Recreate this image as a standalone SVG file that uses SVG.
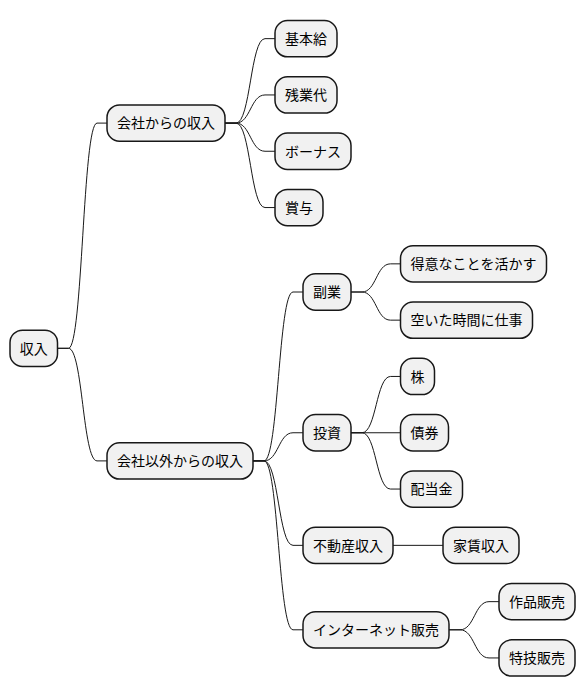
<svg xmlns="http://www.w3.org/2000/svg" width="586" height="696" viewBox="0 0 586 696">
<style>
.n rect{fill:#F1F1F1;stroke:#181818;stroke-width:1.5}
.n text{font-family:"Noto Sans CJK JP","Noto Sans",sans-serif;font-size:14px;fill:#000;text-anchor:middle}
#connectors path{fill:none;stroke:#181818;stroke-width:1}
</style>
<rect width="586" height="696" fill="#FFFFFF"/>
<g id="connectors">
<path d="M57.5,348.3 H68.5 C82.75,348.3 82.75,123.1 97,123.1 H107"/>
<path d="M57.5,348.3 H68.5 C82.75,348.3 82.75,460.9 97,460.9 H107"/>
<path d="M225,123.1 H236 C250.5,123.1 250.5,38.65 265,38.65 H275"/>
<path d="M225,123.1 H236 C250.5,123.1 250.5,94.95 265,94.95 H275"/>
<path d="M225,123.1 H236 C250.5,123.1 250.5,151.25 265,151.25 H275"/>
<path d="M225,123.1 H236 C250.5,123.1 250.5,207.55 265,207.55 H275"/>
<path d="M253,460.9 H264 C278.5,460.9 278.5,292 293,292 H303"/>
<path d="M253,460.9 H264 C278.5,460.9 278.5,432.75 293,432.75 H303"/>
<path d="M253,460.9 H264 C278.5,460.9 278.5,545.35 293,545.35 H303"/>
<path d="M253,460.9 H264 C278.5,460.9 278.5,629.8 293,629.8 H303"/>
<path d="M351,292 H362 C376.25,292 376.25,263.85 390.5,263.85 H400.5"/>
<path d="M351,292 H362 C376.25,292 376.25,320.15 390.5,320.15 H400.5"/>
<path d="M351,432.75 H362 C376.25,432.75 376.25,376.45 390.5,376.45 H400.5"/>
<path d="M351,432.75 H400.5"/>
<path d="M351,432.75 H362 C376.25,432.75 376.25,489.05 390.5,489.05 H400.5"/>
<path d="M393,545.35 H443"/>
<path d="M449,629.8 H460 C474.5,629.8 474.5,601.65 489,601.65 H499"/>
<path d="M449,629.8 H460 C474.5,629.8 474.5,657.95 489,657.95 H499"/>
</g>
<g id="n-root" class="n"><rect x="10" y="330.15" width="47.5" height="36.3" rx="12.5"/><text x="33.75" y="353.55">収入</text></g>
<g id="n-company" class="n"><rect x="107" y="104.95" width="118" height="36.3" rx="12.5"/><text x="166" y="128.35">会社からの収入</text></g>
<g id="n-other" class="n"><rect x="107" y="442.75" width="146" height="36.3" rx="12.5"/><text x="180" y="466.15">会社以外からの収入</text></g>
<g id="n-base" class="n"><rect x="275" y="20.5" width="62" height="36.3" rx="12.5"/><text x="306" y="43.9">基本給</text></g>
<g id="n-overtime" class="n"><rect x="275" y="76.8" width="62" height="36.3" rx="12.5"/><text x="306" y="100.2">残業代</text></g>
<g id="n-bonus" class="n"><rect x="275" y="133.1" width="76" height="36.3" rx="12.5"/><text x="313" y="156.5">ボーナス</text></g>
<g id="n-shoyo" class="n"><rect x="275" y="189.4" width="48" height="36.3" rx="12.5"/><text x="299" y="212.8">賞与</text></g>
<g id="n-side" class="n"><rect x="303" y="273.85" width="48" height="36.3" rx="12.5"/><text x="327" y="297.25">副業</text></g>
<g id="n-invest" class="n"><rect x="303" y="414.6" width="48" height="36.3" rx="12.5"/><text x="327" y="438">投資</text></g>
<g id="n-realestate" class="n"><rect x="303" y="527.2" width="90" height="36.3" rx="12.5"/><text x="348" y="550.6">不動産収入</text></g>
<g id="n-internet" class="n"><rect x="303" y="611.65" width="146" height="36.3" rx="12.5"/><text x="376" y="635.05">インターネット販売</text></g>
<g id="n-skill" class="n"><rect x="400.5" y="245.7" width="146" height="36.3" rx="12.5"/><text x="473.5" y="269.1">得意なことを活かす</text></g>
<g id="n-freetime" class="n"><rect x="400.5" y="302" width="132" height="36.3" rx="12.5"/><text x="466.5" y="325.4">空いた時間に仕事</text></g>
<g id="n-stock" class="n"><rect x="400.5" y="358.3" width="34" height="36.3" rx="12.5"/><text x="417.5" y="381.7">株</text></g>
<g id="n-bond" class="n"><rect x="400.5" y="414.6" width="48" height="36.3" rx="12.5"/><text x="424.5" y="438">債券</text></g>
<g id="n-dividend" class="n"><rect x="400.5" y="470.9" width="62" height="36.3" rx="12.5"/><text x="431.5" y="494.3">配当金</text></g>
<g id="n-rent" class="n"><rect x="443" y="527.2" width="76" height="36.3" rx="12.5"/><text x="481" y="550.6">家賃収入</text></g>
<g id="n-works" class="n"><rect x="499" y="583.5" width="76" height="36.3" rx="12.5"/><text x="537" y="606.9">作品販売</text></g>
<g id="n-talent" class="n"><rect x="499" y="639.8" width="76" height="36.3" rx="12.5"/><text x="537" y="663.2">特技販売</text></g>
</svg>
